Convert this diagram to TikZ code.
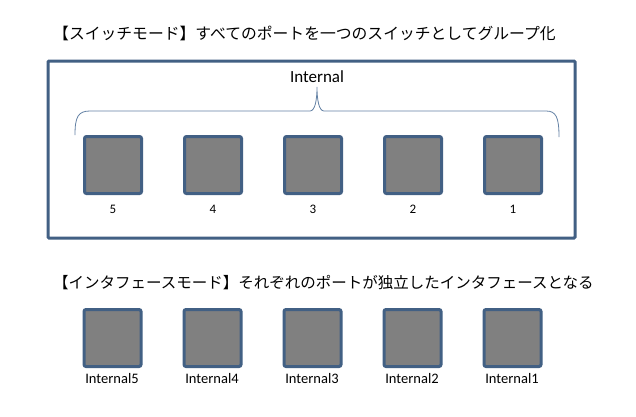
\documentclass[tikz,border=0pt]{standalone}
\usepackage{fontspec}
\setmainfont{Carlito}
\newfontfamily\jpfont{Noto Sans CJK JP}
\definecolor{portblue}{RGB}{66,96,132}
\definecolor{braceblue}{RGB}{100,130,165}
\definecolor{portgray}{RGB}{128,128,128}
\begin{document}
\begin{tikzpicture}[x=1pt,y=-1pt,
  port/.style={draw=portblue,fill=portgray,line width=3pt,rounded corners=2pt,
    minimum width=57pt,minimum height=57pt,inner sep=0pt},
  numlbl/.style={font=\fontsize{13}{15}\selectfont,inner sep=0pt},
  intlbl/.style={font=\fontsize{14.5}{16}\selectfont,inner sep=0pt},
  titlelbl/.style={inner sep=0pt,anchor=west},
  outerbox/.style={draw=portblue,line width=3pt,rounded corners=1pt},
  bracepath/.style={draw=braceblue,line width=0.8pt}]
\useasboundingbox (0,0) rectangle (636,416);
\fill[white] (0,0) rectangle (636,416);

\node[titlelbl,font=\jpfont\fontsize{15.8}{18}\selectfont] (t1) at (53,33) {【スイッチモード】すべてのポートを一つのスイッチとしてグループ化};
\node[outerbox,minimum width=527pt,minimum height=177pt,inner sep=0pt] (box) at (311.5,149.5) {};
\node[font=\fontsize{17}{19}\selectfont,inner sep=0pt] (grp) at (317,77) {Internal};

\coordinate (bl) at (75,135);
\coordinate (btip) at (317,87);
\coordinate (br) at (559,137);
\draw[bracepath] (bl) .. controls (75,117) and (78,111) .. (90,111) -- (310,111)
  .. controls (315,111) and (317,100) .. (btip)
  .. controls (317,100) and (319,111) .. (324,111) -- (546,111)
  .. controls (556,111) and (559,117) .. (br);

\foreach \n/\x in {5/113,4/213,3/313,2/413,1/513}{
  \node[port] (s\n) at (\x,165) {};
  \node[numlbl] (n\n) at (\x,209) {\n};
  \node[port] (p\n) at (\x-0.5,338) {};
  \node[intlbl] (i\n) at (\x-1,379) {Internal\n};
}

\node[titlelbl,font=\jpfont\fontsize{15.5}{18}\selectfont] (t2) at (53,283) {【インタフェースモード】それぞれのポートが独立したインタフェースとなる};
\end{tikzpicture}
\end{document}
